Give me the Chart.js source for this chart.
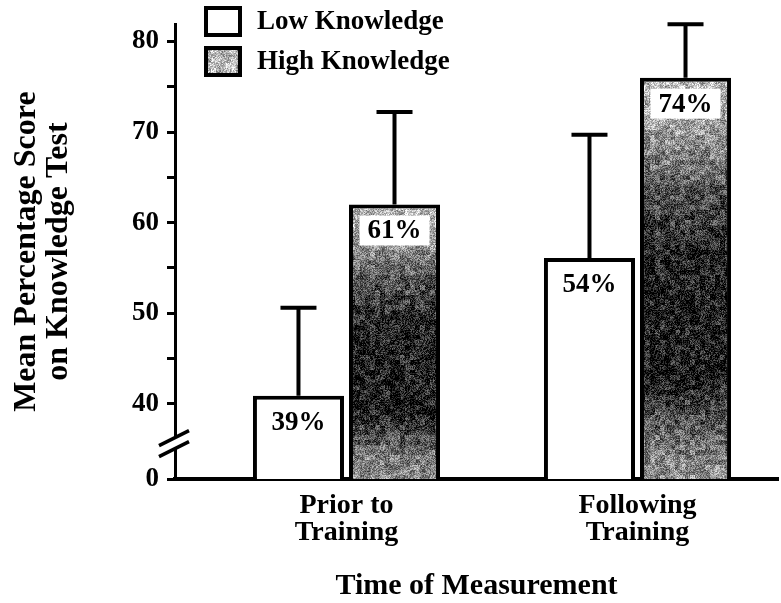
<!DOCTYPE html>
<html>
<head>
<meta charset="utf-8">
<script src="https://cdn.jsdelivr.net/npm/chart.js@4.4.1/dist/chart.umd.min.js"></script>
<style>
  html, body { margin: 0; padding: 0; background: #fff; }
  canvas { display: block; }
</style>
</head>
<body>
<canvas id="chart" width="781" height="603"></canvas>
<script>
// data
const categories = [['Prior to', 'Training'], ['Following', 'Training']];
const categoryPos = [1, 2];
const seriesNames = ['Low Knowledge', 'High Knowledge'];
const lowMeans = [40.9, 56.1];
const highMeans = [62.0, 76.0];
const lowErrTop = [50.6, 69.7];
const highErrTop = [72.2, 81.9];
const lowLabels = ['39%', '54%'];
const highLabels = ['61%', '74%'];
const yTicks = [40, 45, 50, 55, 60, 65, 70, 75, 80];
const yFloor = 31.7;   // bottom of the broken axis, labelled "0"
const yTop = 81.9;

const SERIF = '"Liberation Serif", "Times New Roman", serif';

// grainy grey fill, darker in the middle of the bar (like the scanned halftone)
let seed = 20240607;
function rnd() {
    seed = (seed * 1103515245 + 12345) & 0x7fffffff;
    return seed / 0x7fffffff;
}
const shade = [[0, 195], [0.1, 170], [0.28, 85], [0.45, 35], [0.75, 30], [0.9, 110], [1, 150]];
function shadeAt(t) {
    if (t <= 0) return shade[0][1];
    for (let i = 1; i < shade.length; i++) {
        if (t <= shade[i][0]) {
            const a = shade[i - 1], b = shade[i];
            return a[1] + (b[1] - a[1]) * (t - a[0]) / (b[0] - a[0]);
        }
    }
    return shade[shade.length - 1][1];
}
function grainCanvas(w, h, top, bottom, flat) {
    const cv = document.createElement('canvas');
    cv.width = w; cv.height = h;
    const g = cv.getContext('2d');
    const img = g.createImageData(w, h);
    const cell = 5;
    const cw = Math.ceil(w / cell) + 1, ch = Math.ceil(h / cell) + 1;
    const blot = new Float32Array(cw * ch);
    for (let i = 0; i < blot.length; i++) blot[i] = (rnd() - 0.5) * 70;
    for (let y = 0; y < h; y++) {
        const base = flat != null ? flat : shadeAt((y - top) / (bottom - top));
        for (let x = 0; x < w; x++) {
            let v = base + (rnd() - 0.5) * 110 + blot[Math.floor(y / cell) * cw + Math.floor(x / cell)];
            v = Math.max(0, Math.min(255, v));
            const k = (y * w + x) * 4;
            img.data[k] = img.data[k + 1] = img.data[k + 2] = v;
            img.data[k + 3] = 255;
        }
    }
    g.putImageData(img, 0, 0);
    return cv;
}
const patternCache = {};
function highFill(c) {
    if (c.dataIndex === undefined || !c.chart.scales.y) return '#888';
    const chart = c.chart;
    const y = chart.scales.y;
    const top = Math.round(y.getPixelForValue(highMeans[c.dataIndex]));
    const bottom = Math.round(y.getPixelForValue(y.min));
    const key = [c.dataIndex, top, bottom, chart.width, chart.height].join(':');
    if (!patternCache[key]) {
        const cv = grainCanvas(chart.width, chart.height, top, bottom);
        patternCache[key] = chart.ctx.createPattern(cv, 'no-repeat');
    }
    return patternCache[key];
}

const extras = {
    id: 'extras',
    afterDatasetsDraw(chart) {
        const ctx = chart.ctx;
        const y = chart.scales.y;
        const errs = [lowErrTop, highErrTop];
        const labels = [lowLabels, highLabels];
        ctx.save();
        // error bars (upper half only)
        ctx.strokeStyle = '#000';
        ctx.lineWidth = 4;
        chart.data.datasets.forEach((ds, di) => {
            chart.getDatasetMeta(di).data.forEach((bar, i) => {
                const yt = y.getPixelForValue(errs[di][i]);
                ctx.beginPath();
                ctx.moveTo(bar.x, bar.y);
                ctx.lineTo(bar.x, yt);
                ctx.moveTo(bar.x - 18, yt);
                ctx.lineTo(bar.x + 18, yt);
                ctx.stroke();
            });
        });
        // value labels inside the bars
        ctx.font = 'bold 27px ' + SERIF;
        ctx.textAlign = 'center';
        ctx.textBaseline = 'middle';
        chart.data.datasets.forEach((ds, di) => {
            chart.getDatasetMeta(di).data.forEach((bar, i) => {
                const ty = bar.y + 26;
                if (di === 1) {
                    ctx.fillStyle = '#fff';
                    ctx.fillRect(bar.x - 35, ty - 15, 70, 30);
                }
                ctx.fillStyle = '#000';
                ctx.fillText(labels[di][i], bar.x, ty + 1);
            });
        });
        ctx.restore();
    },
    afterDraw(chart) {
        const ctx = chart.ctx;
        const y = chart.scales.y;
        const ax = chart.chartArea.left;
        ctx.save();
        // axis break marks
        const yb = y.getPixelForValue(35.6);
        ctx.fillStyle = '#fff';
        ctx.beginPath();
        ctx.moveTo(ax - 16, yb + 2);
        ctx.lineTo(ax + 14, yb - 13);
        ctx.lineTo(ax + 14, yb - 2);
        ctx.lineTo(ax - 16, yb + 13);
        ctx.closePath();
        ctx.fill();
        ctx.strokeStyle = '#000';
        ctx.lineWidth = 3.5;
        ctx.beginPath();
        ctx.moveTo(ax - 16, yb + 2);
        ctx.lineTo(ax + 14, yb - 13);
        ctx.moveTo(ax - 16, yb + 13);
        ctx.lineTo(ax + 14, yb - 2);
        ctx.stroke();
        // legend
        const lx = 206, ly = [8, 48], bw = 34, bh = 27;
        ctx.font = 'bold 27px ' + SERIF;
        ctx.textAlign = 'left';
        ctx.textBaseline = 'middle';
        chart.data.datasets.forEach((ds, di) => {
            if (di === 1) {
                ctx.drawImage(grainCanvas(bw, bh, 0, 1, 185), lx, ly[di]);
            } else {
                ctx.fillStyle = '#fff';
                ctx.fillRect(lx, ly[di], bw, bh);
            }
            ctx.strokeStyle = '#000';
            ctx.lineWidth = 4;
            ctx.strokeRect(lx, ly[di], bw, bh);
            ctx.fillStyle = '#000';
            ctx.fillText(ds.label, 257, ly[di] + bh / 2 + 1);
        });
        ctx.restore();
    }
};

new Chart(document.getElementById('chart').getContext('2d'), {
    type: 'bar',
    data: {
        datasets: [
            {
                label: seriesNames[0],
                data: categoryPos.map((x, i) => ({ x: x, y: lowMeans[i] })),
                backgroundColor: '#fff',
                borderColor: '#000',
                borderWidth: 4,
                borderSkipped: false
            },
            {
                label: seriesNames[1],
                data: categoryPos.map((x, i) => ({ x: x, y: highMeans[i] })),
                backgroundColor: highFill,
                borderColor: '#000',
                borderWidth: 4,
                borderSkipped: false
            }
        ]
    },
    options: {
        responsive: false,
        animation: false,
        events: [],
        categoryPercentage: 0.66,
        barPercentage: 0.948,
        layout: { padding: { top: 20, right: 3, left: 0, bottom: 0 } },
        plugins: {
            legend: { display: false },
            tooltip: { enabled: false }
        },
        scales: {
            x: {
                type: 'linear',
                min: 0.4107,
                max: 2.4828,
                offset: false,
                afterBuildTicks: s => { s.ticks = categoryPos.map(v => ({ value: v })); },
                afterFit: s => { s.height = 124; },
                grid: { display: false, drawTicks: false },
                border: { display: true, color: '#000', width: 4 },
                ticks: {
                    callback: v => categories[categoryPos.indexOf(v)],
                    font: { family: SERIF, size: 28, weight: 'bold', lineHeight: 0.97 },
                    color: '#000',
                    padding: 13,
                    maxRotation: 0,
                    autoSkip: false
                },
                title: {
                    display: true,
                    text: 'Time of Measurement',
                    font: { family: SERIF, size: 30, weight: 'bold', lineHeight: 1.1 },
                    color: '#000',
                    padding: { top: 0, bottom: 0 }
                }
            },
            y: {
                min: yFloor,
                max: yTop,
                afterBuildTicks: s => { s.ticks = [yFloor].concat(yTicks).map(v => ({ value: v })); },
                afterFit: s => { s.width = 175; },
                grid: { drawOnChartArea: false, drawTicks: true, tickLength: 8, tickWidth: 3, tickColor: '#000' },
                border: { display: true, color: '#000', width: 3 },
                ticks: {
                    callback: v => v === yFloor ? '0' : (v % 10 === 0 ? String(v) : ''),
                    font: { family: SERIF, size: 27, weight: 'bold' },
                    color: '#000',
                    padding: 8,
                    autoSkip: false
                },
                title: {
                    display: true,
                    text: ['Mean Percentage Score', 'on Knowledge Test'],
                    font: { family: SERIF, size: 32, weight: 'bold', lineHeight: 1.0 },
                    color: '#000',
                    padding: { top: 11, bottom: 0 }
                }
            }
        }
    },
    plugins: [extras]
});
</script>
</body>
</html>
